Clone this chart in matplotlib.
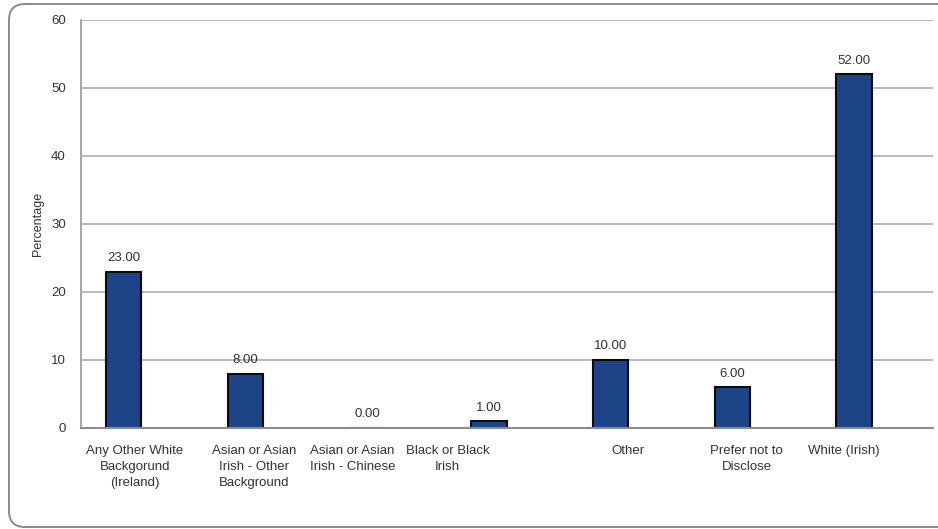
import matplotlib
matplotlib.use("Agg")
import matplotlib.pyplot as plt
from matplotlib.patches import FancyBboxPatch

categories = [
    "Any Other White\nBackgorund\n(Ireland)",
    "Asian or Asian\nIrish - Other\nBackground",
    "Asian or Asian\nIrish - Chinese",
    "Black or Black\nIrish",
    "Other",
    "Prefer not to\nDisclose",
    "White (Irish)",
]
percentages = [23.0, 8.0, 0.0, 1.0, 10.0, 6.0, 52.0]
y_ticks = [0, 10, 20, 30, 40, 50, 60]

# horizontal nudges of the category captions (in category units)
label_shift = [0.09, 0.07, -0.12, -0.34, 0.14, 0.12, -0.08]

plt.rcParams["font.family"] = ["Liberation Sans", "DejaVu Sans"]

W, H, DPI = 938, 529, 100
fig = plt.figure(figsize=(W / DPI, H / DPI), dpi=DPI)
fig.patch.set_facecolor("white")

# rounded outer frame
frame = FancyBboxPatch((9, 2), 945, 523, boxstyle="round,pad=0,rounding_size=16",
                       transform=None, facecolor="none", edgecolor="#8a8a8a",
                       linewidth=1.4)
fig.add_artist(frame)

ax = fig.add_axes([81 / W, 1 - 428 / H, (933 - 81) / W, (428 - 20) / H])
x = list(range(len(categories)))
bars = ax.bar(x, percentages, width=0.29, color="#1c4487", edgecolor="#0a0a14",
              linewidth=1.5, zorder=3)
ax.bar_label(bars, labels=[f"{v:.2f}" for v in percentages], padding=5.5,
             fontsize=9.5, color="#333333")

ax.set_xlim(-0.352, 6.65)
ax.set_ylim(0, 60)
ax.set_yticks(y_ticks)
ax.set_yticklabels([str(t) for t in y_ticks], fontsize=9.5, color="#333333")
ax.tick_params(axis="y", length=0, pad=11)
ax.yaxis.grid(True, color="#b4b4b4", linewidth=1.3, zorder=0)
ax.set_axisbelow(True)

ax.set_xticks([i + s for i, s in zip(x, label_shift)])
ax.set_xticklabels(categories, fontsize=9.5, color="#333333", linespacing=1.45)
ax.tick_params(axis="x", length=0, pad=12)

for side in ("top", "right"):
    ax.spines[side].set_visible(False)
ax.spines["left"].set_color("#a0a0a0")
ax.spines["left"].set_linewidth(1.3)
ax.spines["bottom"].set_color("#8c8c8c")
ax.spines["bottom"].set_linewidth(1.5)
ax.spines["bottom"].set_zorder(4)

ax.set_ylabel("Percentage", fontsize=9, color="#333333", labelpad=5)

fig.savefig("out.png", dpi=DPI)
